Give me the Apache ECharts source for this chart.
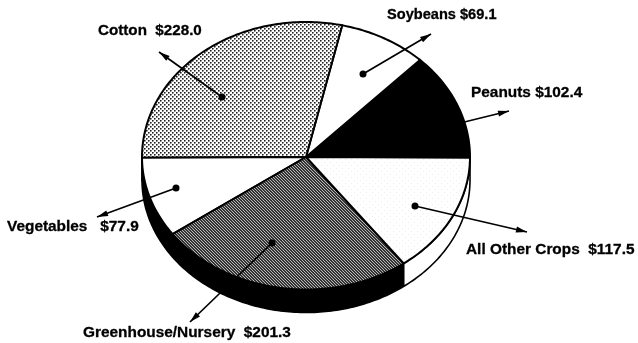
<!DOCTYPE html>
<html><head><meta charset="utf-8">
<style>html,body{margin:0;padding:0;background:#fff}#c{width:638px;height:343px}</style>
<script src="https://cdn.jsdelivr.net/npm/echarts@6/dist/echarts.min.js"></script>
</head><body><div id="c"></div>
<script>
// Data, counter-clockwise from due east
const categories = ['Peanuts','Soybeans','Cotton','Vegetables','Greenhouse/Nursery','All Other Crops'];
const values = [102.4, 69.1, 228.0, 77.9, 201.3, 117.5];
const labelSeparators = [' ', ' ', '  ', '   ', '  ', '  '];

// Drawing layout, separate from data
const pie = {cx:306, cy:157, rx:164, ryTop:135, ryBottom:132.5, depth:23, startAngle:-0.3};
const rimColors = ['#000','#fff','#fff','#000','#000','#fff'];
const labelPos = [[471,93],[387,15],[98,31],[7,227],[83,333],[466,250]];
const labelFontSize = [15.4,14.6,15.2,15.4,15.4,15.4];
const leaders = [[[440,128],[509,111]],[[363,74],[431,34]],[[222,97],[159,52]],[[176,188],[97,217]],[[272,243],[190,322]],[[415,206],[527,232]]];

function tile(size, draw){
  const c=document.createElement('canvas'); c.width=c.height=size;
  const g=c.getContext('2d'); g.fillStyle='#fff'; g.fillRect(0,0,size,size); draw(g);
  return {image:c, repeat:'repeat'};
}
const dots = tile(4,g=>{
  [[0,0],[2,2]].forEach(([x,y])=>{
    g.fillStyle='#222';g.fillRect(x,y,1,1);
    g.fillStyle='#777';g.fillRect(x+1,y,1,1);g.fillRect(x,y+1,1,1);
    g.fillStyle='#bbb';g.fillRect(x+1,y+1,1,1);
  });
});
const hatch = tile(3,g=>{
  g.fillStyle='#333';g.fillRect(0,0,3,3);
  g.fillStyle='#b8b8b8';g.fillRect(0,0,1,1);g.fillRect(1,1,1,1);g.fillRect(2,2,1,1);
});
const fine = tile(6,g=>{g.fillStyle='#ececec';g.fillRect(0,0,1,1);g.fillRect(3,3,1,1);});
const topFills = ['#000','#fff',dots,'#fff',hatch,fine];

const total = values.reduce((a,b)=>a+b,0);
const pt = (deg,dy=0)=>{const t=deg*Math.PI/180, s=Math.sin(t);
  return [pie.cx+pie.rx*Math.cos(t), pie.cy-(s>=0?pie.ryTop:pie.ryBottom)*s+dy];};
function arc(a,b,dy){const n=Math.max(2,Math.ceil(Math.abs(b-a)));const p=[];for(let i=0;i<=n;i++)p.push(pt(a+(b-a)*i/n,dy));return p;}

let cum=0;
const sliceData = values.map((v,i)=>{const s=cum;cum+=v;return [i,pie.startAngle+s/total*360,pie.startAngle+cum/total*360];});

const rimItem = (params,api)=>{
  const a=Math.max(api.value(1),180), b=api.value(2);
  if(b<=180) return {type:'group',children:[]};
  const i=api.value(0);
  return {type:'polygon',shape:{points:arc(a,b,0).concat(arc(b,a,pie.depth))},
    style:{fill:rimColors[i],stroke:'#000',lineWidth:1.6,lineJoin:'round'}};
};
const topItem = (params,api)=>{
  const a=api.value(1), b=api.value(2), i=api.value(0);
  return {type:'polygon',shape:{points:[[pie.cx,pie.cy]].concat(arc(a,b,0))},
    style:{fill:topFills[i],stroke:'#000',lineWidth:2,lineJoin:'round'}};
};
const leaderItem = (params,api)=>{
  const l=leaders[api.value(0)];
  const [p,q]=l, ang=Math.atan2(q[1]-p[1],q[0]-p[0]);
  const L=11,W=3, cs=Math.cos(ang), sn=Math.sin(ang);
  const bx=q[0]-L*cs, by=q[1]-L*sn;
  return {type:'group',children:[
    {type:'line',shape:{x1:p[0],y1:p[1],x2:q[0],y2:q[1]},style:{stroke:'#000',lineWidth:1.7}},
    {type:'circle',shape:{cx:p[0],cy:p[1],r:3.5},style:{fill:'#000'}},
    {type:'polygon',shape:{points:[q,[bx-W*sn,by+W*cs],[bx+W*sn,by-W*cs]]},style:{fill:'#000'}}
  ]};
};
const chart = echarts.init(document.getElementById('c'),null,{renderer:'canvas'});
chart.setOption({
  animation:false, backgroundColor:'#fff',
  series:[
    {type:'custom',coordinateSystem:'none',renderItem:rimItem,data:sliceData,silent:true,z:1},
    {type:'custom',coordinateSystem:'none',renderItem:topItem,data:sliceData,silent:true,z:2},
    {type:'custom',coordinateSystem:'none',renderItem:leaderItem,data:sliceData,silent:true,z:3}
  ],
  graphic:categories.map((c,i)=>({type:'text',x:labelPos[i][0],y:labelPos[i][1],z:10,silent:true,
    style:{text:c+labelSeparators[i]+'$'+values[i].toFixed(1),fill:'#000',stroke:'#000',lineWidth:0.3,
      font:'bold '+labelFontSize[i]+'px "Liberation Sans", Arial, sans-serif',textAlign:'left',textVerticalAlign:'middle'}}))
});
</script></body></html>
